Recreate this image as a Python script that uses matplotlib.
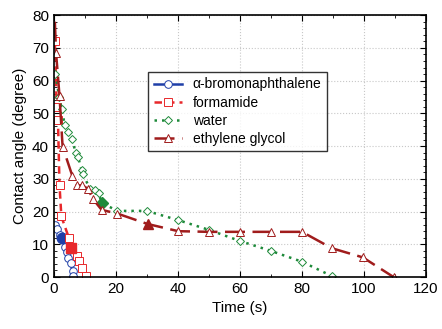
import matplotlib.pyplot as plt
from matplotlib.ticker import MultipleLocator

plt.rcParams['font.family'] = ['Liberation Sans', 'DejaVu Sans']

# alpha-bromonaphthalene
bro_t = [0.5, 1.1, 1.9, 2.7, 3.5, 4.1, 4.6, 5.4, 6.0, 6.3]
bro_a = [16.0, 14.8, 12.8, 11.8, 9.3, 7.7, 5.7, 4.2, 1.9, 0.4]
bro_fill = 3
# formamide
form_t = [0.3, 0.9, 1.3, 1.8, 2.4, 4.8, 5.6, 7.5, 8.2, 9.2, 10.3]
form_a = [72.0, 52.0, 48.0, 28.0, 18.5, 12.0, 8.8, 6.5, 5.0, 2.8, 0.3]
form_fill = 6
# water
wat_t = [0.5, 1.7, 2.5, 3.5, 4.6, 5.9, 7.0, 7.8, 8.9, 9.3, 11.6, 13.3, 14.4, 15.4,
         20.4, 29.9, 40.0, 50.0, 60.0, 69.9, 79.9, 89.6]
wat_a = [62.0, 55.0, 51.4, 46.4, 44.4, 42.3, 37.8, 36.7, 32.7, 31.5, 27.0, 26.5, 25.6, 22.7,
         20.2, 20.2, 17.4, 14.4, 11.0, 8.0, 4.7, 0.3]
wat_fill = 13
# ethylene glycol
eg_t = [0.3, 0.7, 1.8, 2.8, 5.9, 7.5, 9.1, 10.9, 12.7, 15.4, 20.4, 30.2, 40.1,
        50.0, 60.0, 70.0, 80.0, 89.6, 99.6, 109.5]
eg_a = [78.0, 68.3, 55.3, 39.8, 31.0, 28.0, 28.0, 27.0, 23.7, 20.5, 19.4, 16.2, 14.0,
        13.8, 13.8, 13.8, 13.8, 8.8, 6.0, 0.0]
eg_fill = 11

fig = plt.figure(figsize=(4.42, 3.29), dpi=100)
ax = fig.add_axes([0.122, 0.158, 0.842, 0.796])

series = [
    (bro_t, bro_a, bro_fill, '#1f3fa8', '-', 'o', 5.5, '\u03b1-bromonaphthalene'),
    (form_t, form_a, form_fill, '#e8282b', (0, (3, 2)), 's', 5.5, 'formamide'),
    (wat_t, wat_a, wat_fill, '#1e8a3a', (0, (1, 2)), 'D', 4.5, 'water'),
    (eg_t, eg_a, eg_fill, '#a01c1c', (0, (8, 3)), '^', 5.5, 'ethylene glycol'),
]
for t, a, k, c, ls, m, ms, lab in series:
    mk = list(range(1, len(t))) if lab == 'ethylene glycol' else None
    ax.plot(t, a, color=c, ls=ls, lw=1.8, marker=m, ms=ms, mfc='white',
            mec=c, mew=0.7, markevery=mk, label=lab)
    ax.plot(t[k], a[k], marker=m, ms=ms + 2, color=c, mec=c, ls='none')

ax.set_xlim(0, 120)
ax.set_ylim(0, 80)
ax.xaxis.set_major_locator(MultipleLocator(20))
ax.xaxis.set_minor_locator(MultipleLocator(10))
ax.yaxis.set_major_locator(MultipleLocator(10))
ax.yaxis.set_minor_locator(MultipleLocator(2))
ax.tick_params(which='both', direction='in', top=True, right=True, labelsize=11)
ax.tick_params(which='major', length=4)
ax.tick_params(which='minor', length=2)
ax.grid(True, ls=':', color='#c8c8c8', lw=0.8)
for s in ax.spines.values():
    s.set_linewidth(1.2)
ax.set_xlabel('Time (s)', fontsize=11)
ax.set_ylabel('Contact angle (degree)', fontsize=11)

leg = ax.legend(loc='upper left', bbox_to_anchor=(0.235, 0.81), fontsize=10,
                frameon=True, fancybox=False, handlelength=2.0,
                borderpad=0.4, labelspacing=0.3)
leg.get_frame().set_edgecolor('black')
leg.get_frame().set_linewidth(1.0)

fig.savefig('out.png', dpi=100)
